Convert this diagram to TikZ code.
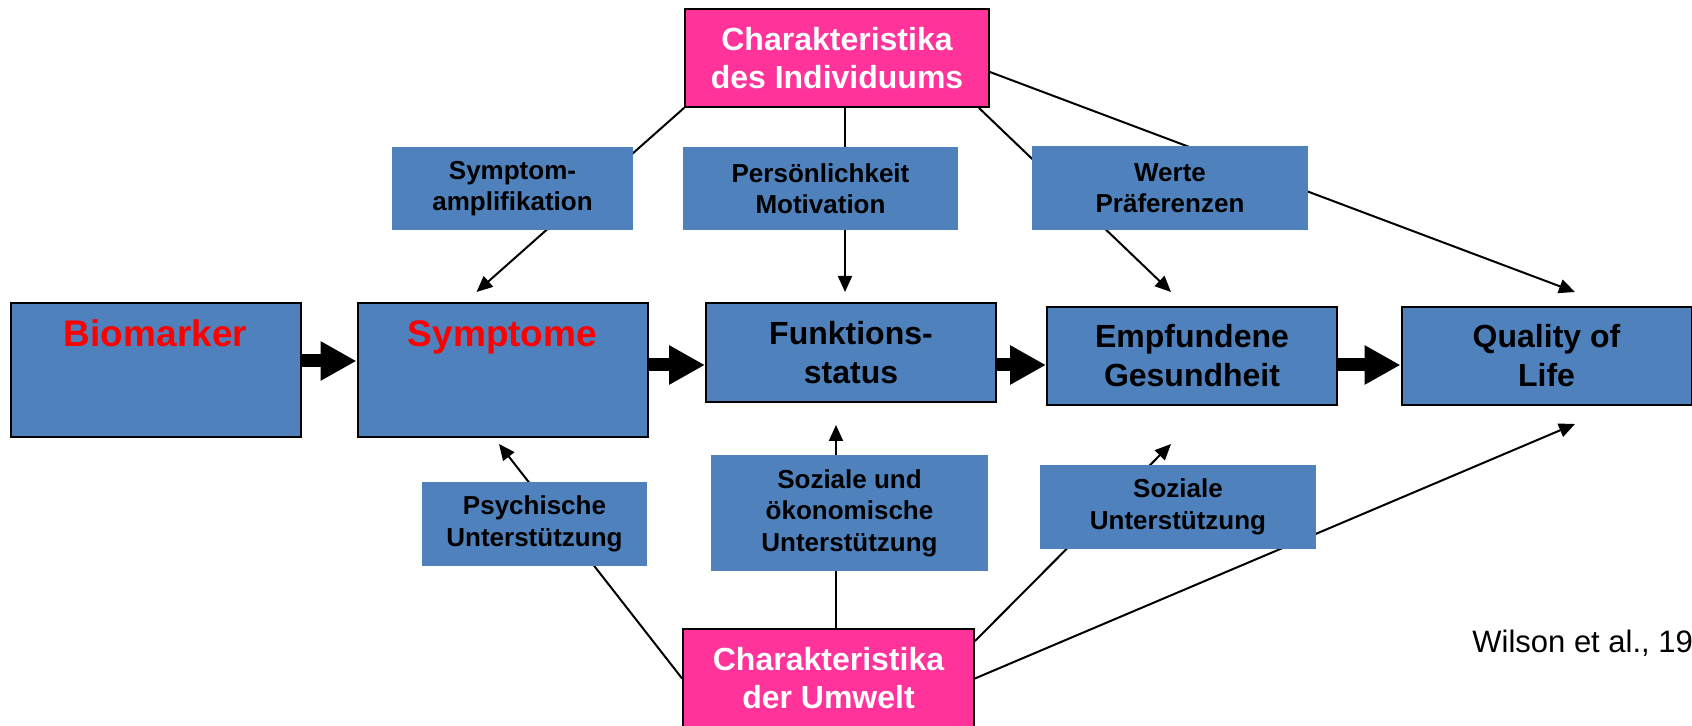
\documentclass[tikz,border=0pt]{standalone}
\usepackage{fontspec}
\setmainfont{Liberation Sans}
\usetikzlibrary{arrows.meta}
\definecolor{boxblue}{HTML}{4F81BD}
\definecolor{pinkbox}{HTML}{FF3399}
\tikzset{
	mainstyle/.style={rectangle,draw=black,line width=1pt,fill=boxblue,align=center,inner sep=0pt,minimum width=145pt,font=\fontsize{16}{19.5}\selectfont\bfseries},
	smallstyle/.style={rectangle,fill=boxblue,align=center,inner sep=0pt,font=\fontsize{13}{15.75}\selectfont\bfseries},
	pinkstyle/.style={rectangle,draw=black,line width=0.9pt,fill=pinkbox,text=white,align=center,inner sep=0pt,font=\fontsize{16}{19}\selectfont\bfseries},
	redstyle/.style={text=red,inner sep=0pt,font=\fontsize{18.5}{22}\selectfont\bfseries},
	thinarrow/.style={-{Triangle[length=8pt,width=7pt]},line width=1pt},
	fatarrow/.style={-{Triangle[length=18pt,width=18.5pt]},line width=6.5pt}
}
\begin{document}
\begin{tikzpicture}[x=0.5pt,y=-0.5pt]
		\useasboundingbox (0,0) rectangle (1692,726);
		\node[pinkstyle,minimum width=152pt,minimum height=49pt] (indiv) at (837,58) {Charakteristika\\des Individuums};
		\node[mainstyle,minimum height=67pt] (bio) at (155.5,370) {};
		\node[redstyle,anchor=base] (biotxt) at ([yshift=-22.5pt]bio.north) {Biomarker};
		\node[mainstyle,minimum height=67pt] (sym) at (502.5,370) {};
		\node[redstyle,anchor=base] (symtxt) at ([yshift=-22.5pt]sym.north) {Symptome};
		\node[mainstyle,minimum height=49.5pt] (funk) at (851,352.5) {Funktions-\\status};
		\node[mainstyle,minimum height=49pt] (empf) at (1192,356) {Empfundene\\Gesundheit};
		\node[mainstyle,minimum height=49pt] (qol) at (1546.5,356) {Quality of\\Life};
		\node[pinkstyle,minimum width=145.5pt,minimum height=49.5pt] (umwelt) at (828.5,678.5) {Charakteristika\\der Umwelt};
		\draw[fatarrow] (bio.east |- 0,361) -- (sym.west |- 0,361);
		\draw[fatarrow] (sym.east |- 0,365) -- (funk.west |- 0,365);
		\draw[fatarrow] (funk.east |- 0,365) -- (empf.west |- 0,365);
		\draw[fatarrow] (empf.east |- 0,365) -- (qol.west |- 0,365);
		\draw[thinarrow] (indiv.south west) -- ([xshift=-13pt,yshift=5pt]sym.north);
		\draw[thinarrow] ([xshift=4pt]indiv.south) -- ([xshift=-3pt,yshift=5pt]funk.north);
		\draw[thinarrow] ([xshift=-5.5pt]indiv.south east) -- ([xshift=-10.5pt,yshift=7pt]empf.north);
		\draw[thinarrow] ([yshift=-7pt]indiv.east) -- ([xshift=14.25pt,yshift=7pt]qol.north);
		\draw[thinarrow] (umwelt.west) -- ([xshift=-1.75pt,yshift=-3pt]sym.south);
		\draw[thinarrow] ([xshift=3.75pt]umwelt.north) -- ([xshift=-7.5pt,yshift=-11pt]funk.south);
		\draw[thinarrow] ([yshift=-6.5pt]umwelt.north east) -- ([xshift=-10.5pt,yshift=-19pt]empf.south);
		\draw[thinarrow] (umwelt.east) -- ([xshift=14.25pt,yshift=-9pt]qol.south);
		\node[smallstyle,minimum width=120.5pt,minimum height=41.5pt] (amp) at (512.5,188.5) {Symptom-\\amplifikation};
		\node[smallstyle,minimum width=137.5pt,minimum height=41.5pt] (pers) at (820.5,188.5) {Persönlichkeit\\Motivation};
		\node[smallstyle,minimum width=138pt,minimum height=42pt] (werte) at (1170,188) {Werte\\Präferenzen};
		\node[smallstyle,minimum width=112.5pt,minimum height=42pt] (psych) at (534.5,524) {Psychische\\Unterstützung};
		\node[smallstyle,minimum width=138.5pt,minimum height=58pt] (sozoek) at (849.5,513) {Soziale und\\ökonomische\\Unterstützung};
		\node[smallstyle,minimum width=138pt,minimum height=42pt] (soz) at (1178,507) {Soziale\\Unterstützung};
		\node[anchor=base west,inner sep=0pt,font=\fontsize{15.5}{18}\selectfont] (quelle) at (1472,653) {Wilson et al., 19};
		\end{tikzpicture}
\end{document}
